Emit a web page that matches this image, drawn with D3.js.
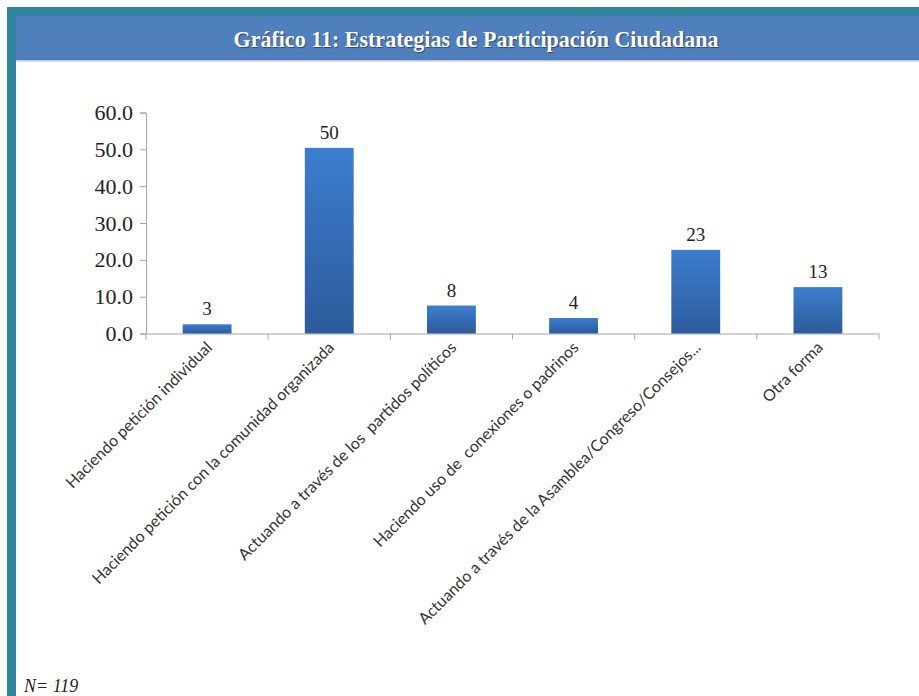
<!DOCTYPE html>
<html lang="es">
<head>
<meta charset="UTF-8">
<title>Gráfico 11</title>
<style>
  body { margin: 0; background: #fff; }
  svg { display: block; }
  .serif { font-family: "Liberation Serif", "DejaVu Serif", serif; }
  .sans { font-family: "Lato", "Open Sans", sans-serif; }
</style>
</head>
<body>
<svg width="919" height="696"></svg>
<script src="https://d3js.org/d3.v7.min.js"></script>
<script>
// data (percent, N = 119)
const categories = [
  "Haciendo petición individual",
  "Haciendo petición con la comunidad organizada",
  "Actuando a través de los  partidos políticos",
  "Haciendo uso de  conexiones o padrinos",
  "Actuando a través de la Asamblea/Congreso/Consejos...",
  "Otra forma"
];
const values = [2.5, 50.4, 7.6, 4.2, 22.7, 12.6];
const yTicks = [0, 10, 20, 30, 40, 50, 60];
const title = "Gráfico 11: Estrategias de Participación Ciudadana";
const note = "N= 119";

const svg = d3.select("svg");

// frame: teal band + left stripe, blue header
svg.append("rect").attr("x", 7).attr("y", 7).attr("width", 912).attr("height", 9).attr("fill", "#2f859c");
svg.append("rect").attr("x", 7).attr("y", 7).attr("width", 9).attr("height", 689).attr("fill", "#2f859c");
svg.append("rect").attr("x", 16).attr("y", 16).attr("width", 903).attr("height", 44).attr("fill", "#4f80bd");
svg.append("rect").attr("x", 16).attr("y", 60).attr("width", 903).attr("height", 1.5).attr("fill", "#b4c6dc");

svg.append("text")
  .attr("class", "serif")
  .attr("x", 476).attr("y", 47)
  .attr("text-anchor", "middle")
  .attr("font-weight", "bold")
  .attr("font-size", 23)
  .attr("textLength", 485)
  .attr("lengthAdjust", "spacingAndGlyphs")
  .attr("fill", "#fff")
  .style("text-shadow", "1px 1px 1px rgba(0,0,0,0.45)")
  .text(title);

// scales
const x = d3.scaleBand().domain(categories).range([146, 879])
  .paddingInner(0.6).paddingOuter(0.3);
const y = d3.scaleLinear().domain([0, 60]).range([333.5, 112.5]);

const defs = svg.append("defs");
const grad = defs.append("linearGradient").attr("id", "barGrad")
  .attr("x1", 0).attr("y1", 0).attr("x2", 0).attr("y2", 1);
grad.append("stop").attr("offset", "0%").attr("stop-color", "#3d7dce");
grad.append("stop").attr("offset", "100%").attr("stop-color", "#2c5b9b");

// y axis
const yAxis = svg.append("g").attr("transform", "translate(146,0)")
  .call(d3.axisLeft(y).tickValues(yTicks).tickFormat(d3.format(".1f")).tickSize(6).tickPadding(7));
yAxis.attr("font-family", null);
yAxis.select(".domain").attr("stroke", "#a6a6a6");
yAxis.selectAll(".tick line").attr("stroke", "#a6a6a6");
yAxis.selectAll(".tick text")
  .attr("class", "serif")
  .attr("font-size", 22)
  .attr("fill", "#222");

// x axis line + boundary ticks
const gap = (x.step() - x.bandwidth()) / 2;
const bounds = categories.map(c => x(c) - gap).concat([x(categories[categories.length - 1]) + x.bandwidth() + gap]);
svg.append("line")
  .attr("x1", x.range()[0]).attr("x2", x.range()[1])
  .attr("y1", y(0) + 0.5).attr("y2", y(0) + 0.5)
  .attr("stroke", "#a6a6a6");
svg.selectAll(".xtick").data(bounds).join("line")
  .attr("class", "xtick")
  .attr("x1", d => d).attr("x2", d => d)
  .attr("y1", y(0)).attr("y2", y(0) + 6)
  .attr("stroke", "#a6a6a6");

// bars
svg.selectAll(".bar").data(values).join("rect")
  .attr("class", "bar")
  .attr("x", (d, i) => x(categories[i]))
  .attr("y", d => y(d))
  .attr("width", x.bandwidth())
  .attr("height", d => y(0) - y(d))
  .attr("fill", "url(#barGrad)");

// value labels
svg.selectAll(".val").data(values).join("text")
  .attr("class", "val serif")
  .attr("x", (d, i) => x(categories[i]) + x.bandwidth() / 2)
  .attr("y", d => y(d) - 9)
  .attr("text-anchor", "middle")
  .attr("font-size", 19)
  .attr("fill", "#222")
  .text(d => d3.format(".0f")(d));

// rotated category labels
svg.selectAll(".cat").data(categories).join("text")
  .attr("class", "cat sans")
  .attr("transform", c => `translate(${x(c) + x.bandwidth() / 2 + 6},${y(0) + 15}) rotate(-45)`)
  .attr("text-anchor", "end")
  .attr("font-size", 16)
  .attr("fill", "#333")
  .style("white-space", "pre")
  .text(c => c);

// footnote
svg.append("text")
  .attr("class", "serif")
  .attr("x", 24).attr("y", 692)
  .attr("font-style", "italic")
  .attr("font-size", 18)
  .attr("fill", "#222")
  .text(note);
</script>
</body>
</html>
